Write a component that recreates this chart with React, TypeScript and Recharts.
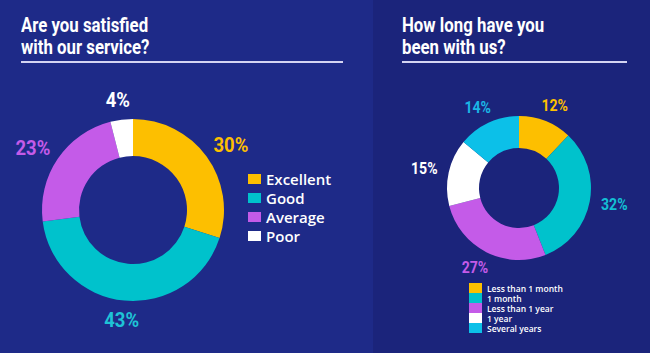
import React from 'react';
import { PieChart, Pie, Cell, Legend } from 'recharts';

const satisfactionNames = ['Excellent', 'Good', 'Average', 'Poor'];
const satisfactionValues = [30, 43, 23, 4];
const satisfactionColors = ['#fdbf00', '#00c2cc', '#c45be8', '#ffffff'];
const satisfactionLabelColors = ['#fdbf00', '#1ec3d6', '#c45be8', '#ffffff'];

const tenureNames = ['Less than 1 month', '1 month', 'Less than 1 year', '1 year', 'Several years'];
const tenureValues = [12, 32, 27, 15, 14];
const tenureColors = ['#fdbf00', '#00c2cc', '#c45be8', '#ffffff', '#0cc0e8'];
const tenureLabelColors = ['#fdbf00', '#13c0d4', '#c45be8', '#ffffff', '#1ab5e6'];

const satisfactionData = satisfactionNames.map((name, i) => ({ name, value: satisfactionValues[i] }));
const tenureData = tenureNames.map((name, i) => ({ name, value: tenureValues[i] }));

const RADIAN = Math.PI / 180;
const condensed = 'Roboto, sans-serif';
const legendFont = '"Open Sans", Lato, sans-serif';

const makeLabel = (colors: string[], gap: number, shift: number, size: number) => (props: any) => {
  const { cx, cy, midAngle, outerRadius, index, value } = props;
  const r = outerRadius + gap;
  const cos = Math.cos(-midAngle * RADIAN);
  const sin = Math.sin(-midAngle * RADIAN);
  const x = cx + r * cos + cos * shift;
  const y = cy + r * sin;
  return (
    <text
      x={x}
      y={y}
      fill={colors[index]}
      textAnchor="middle"
      dominantBaseline="central"
      fontFamily={condensed}
      fontWeight="bold"
      fontSize={size}
      transform={`translate(${x} ${y}) scale(0.88 1) translate(${-x} ${-y})`}
    >
      {value}%
    </text>
  );
};

const BigLegend = () => (
  <div style={{ fontFamily: legendFont, fontWeight: 600, fontSize: 15, color: '#fff' }}>
    {satisfactionNames.map((n, i) => (
      <div key={n} style={{ display: 'flex', alignItems: 'center', height: 19 }}>
        <span
          style={{
            width: 13,
            height: 10,
            background: satisfactionColors[i],
            marginRight: 5,
            display: 'inline-block',
          }}
        />
        {n}
      </div>
    ))}
  </div>
);

const SmallLegend = () => (
  <div style={{ fontFamily: legendFont, fontWeight: 600, fontSize: 8.5, color: '#fff' }}>
    {tenureNames.map((n, i) => (
      <div key={n} style={{ display: 'flex', alignItems: 'center', height: 10 }}>
        <span
          style={{
            width: 13,
            height: 10,
            background: tenureColors[i],
            marginRight: 5,
            display: 'inline-block',
          }}
        />
        {n}
      </div>
    ))}
  </div>
);

const Title = ({ lines, left, width }: { lines: string[]; left: number; width: number }) => (
  <div style={{ position: 'absolute', left, top: 0 }}>
    <div
      style={{
        position: 'absolute',
        top: 14,
        left: 0,
        whiteSpace: 'nowrap',
        fontFamily: condensed,
        fontWeight: 'bold',
        fontSize: 21,
        lineHeight: '22px',
        color: '#fff',
        transform: 'scaleX(0.8)',
        transformOrigin: 'left top',
      }}
    >
      {lines.map((l) => (
        <div key={l}>{l}</div>
      ))}
    </div>
    <div style={{ position: 'absolute', top: 61, width, height: 2, background: '#d4d4f2' }} />
  </div>
);

export default function App() {
  return (
    <div style={{ position: 'absolute', left: 0, top: 0, width: 650, height: 353, overflow: 'hidden' }}>
      <div style={{ position: 'absolute', left: 0, top: 0, width: 373, height: 353, background: '#1e2a88' }}>
        <Title lines={['Are you satisfied', 'with our service?']} left={21} width={322} />
        <PieChart width={373} height={353} style={{ position: 'absolute', left: 0, top: 0 }}>
          <Pie
            data={satisfactionData}
            dataKey="value"
            nameKey="name"
            cx={128}
            cy={205}
            innerRadius={54}
            outerRadius={91}
            startAngle={90}
            endAngle={-270}
            stroke="none"
            labelLine={false}
            label={makeLabel(satisfactionLabelColors, 20, 10, 21)}
            isAnimationActive={false}
          >
            {satisfactionData.map((d, i) => (
              <Cell key={d.name} fill={satisfactionColors[i]} />
            ))}
          </Pie>
          <Legend
            content={<BigLegend />}
            layout="vertical"
            wrapperStyle={{ position: 'absolute', left: 248, top: 169, width: 120 }}
          />
        </PieChart>
      </div>
      <div style={{ position: 'absolute', left: 373, top: 0, width: 277, height: 353, background: '#1b247b' }}>
        <Title lines={['How long have you', 'been with us?']} left={29} width={225} />
        <PieChart width={277} height={353} style={{ position: 'absolute', left: 0, top: 0 }}>
          <Pie
            data={tenureData}
            dataKey="value"
            nameKey="name"
            cx={141}
            cy={183}
            innerRadius={40}
            outerRadius={72}
            startAngle={90}
            endAngle={-270}
            stroke="none"
            labelLine={false}
            label={makeLabel(tenureLabelColors, 17, 8, 16)}
            isAnimationActive={false}
          >
            {tenureData.map((d, i) => (
              <Cell key={d.name} fill={tenureColors[i]} />
            ))}
          </Pie>
          <Legend
            content={<SmallLegend />}
            layout="vertical"
            wrapperStyle={{ position: 'absolute', left: 96, top: 283, width: 120 }}
          />
        </PieChart>
      </div>
    </div>
  );
}
